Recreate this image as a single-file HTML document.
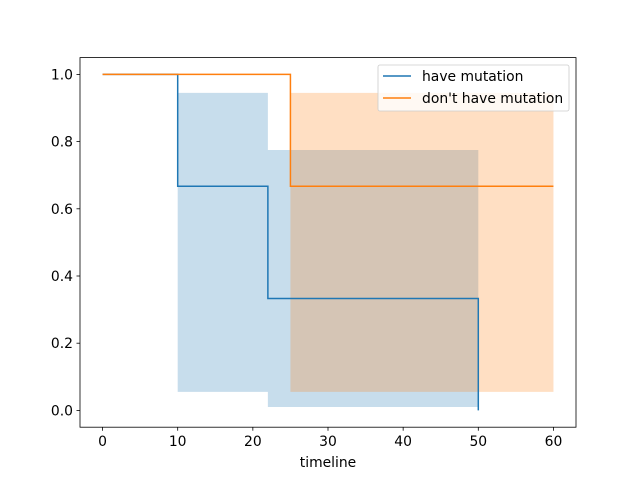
<!DOCTYPE html>
<html><head><meta charset="utf-8"><style>body{margin:0;background:#fff}svg{display:block;font-family:"DejaVu Sans","Liberation Sans",sans-serif}</style></head>
<body>
<svg id="chart" width="640" height="480">
<rect width="640" height="480" fill="#fff"/>
<g id="ci"></g><g id="lines"></g><g id="axes"></g>
</svg>
<script>
const blueT=[0,10,22,50];
const blueS=[1,0.667,0.333,0];
const blueLo=[1,0.055,0.01,0.01];
const blueHi=[1,0.945,0.775,0.775];
const blueEnd=50;
const orangeT=[0,25];
const orangeS=[1,0.667];
const orangeLo=[1,0.055];
const orangeHi=[1,0.945];
const orangeEnd=60;
const xTicks=[0,10,20,30,40,50,60];
const yTicks=[0,0.2,0.4,0.6,0.8,1.0];
const L=80,R=576,T=57.6,B=427.2,x0=-3,x1=63,y0=-0.05,y1=1.05;
const FS=13.9;
const X=v=>L+(v-x0)/(x1-x0)*(R-L);
const Y=v=>B-(v-y0)/(y1-y0)*(B-T);
const NS='http://www.w3.org/2000/svg';
function mk(p,tag,a){const e=document.createElementNS(NS,tag);for(const k in a)e.setAttribute(k,a[k]);p.appendChild(e);return e;}
function stepPath(t,s,end){let d=`M${X(t[0])},${Y(s[0])}`;for(let i=1;i<t.length;i++){d+=`H${X(t[i])}V${Y(s[i])}`;}d+=`H${X(end)}`;return d;}
function ciPath(t,lo,hi,end){let pts=[];for(let i=0;i<t.length;i++){const e=i+1<t.length?t[i+1]:end;pts.push([X(t[i]),Y(hi[i])],[X(e),Y(hi[i])]);}
let low=[];for(let i=0;i<t.length;i++){const e=i+1<t.length?t[i+1]:end;low.push([X(t[i]),Y(lo[i])],[X(e),Y(lo[i])]);}
return 'M'+pts.concat(low.reverse()).map(p=>p.join(',')).join('L')+'Z';}
const ci=document.getElementById('ci'),ln=document.getElementById('lines'),ax=document.getElementById('axes');
let e=mk(ci,'path',{d:ciPath(blueT,blueLo,blueHi,blueEnd),fill:'#1f77b4','fill-opacity':0.25,stroke:'none'});

e=mk(ci,'path',{d:ciPath(orangeT,orangeLo,orangeHi,orangeEnd),fill:'#ff7f0e','fill-opacity':0.25,stroke:'none'});

e=mk(ln,'path',{d:stepPath(blueT,blueS,blueEnd),fill:'none',stroke:'#1f77b4','stroke-width':1.5});

e=mk(ln,'path',{d:stepPath(orangeT,orangeS,orangeEnd),fill:'none',stroke:'#ff7f0e','stroke-width':1.5});

e=mk(ax,'rect',{x:L,y:T,width:R-L,height:B-T,fill:'none',stroke:'#000','stroke-width':0.8});

xTicks.forEach(v=>{mk(ax,'line',{x1:X(v),x2:X(v),y1:B,y2:B+3.5,stroke:'#000','stroke-width':0.8});
const t=mk(ax,'text',{x:X(v),y:B+19,'text-anchor':'middle','font-size':FS});t.textContent=v;
});
yTicks.forEach(v=>{mk(ax,'line',{x1:L-3.5,x2:L,y1:Y(v),y2:Y(v),stroke:'#000','stroke-width':0.8});
const t=mk(ax,'text',{x:L-7,y:Y(v)+5,'text-anchor':'end','font-size':FS});t.textContent=v.toFixed(1);
});
e=mk(ax,'text',{x:(L+R)/2,y:467,'text-anchor':'middle','font-size':FS});e.textContent='timeline';

const lg=mk(ax,'g',{});

mk(lg,'rect',{x:378,y:65,width:191,height:46,rx:2,fill:'#fff','fill-opacity':0.8,stroke:'#ccc','stroke-width':0.8});
[['have mutation','#1f77b4',76],["don't have mutation",'#ff7f0e',98]].forEach(([n,c,y])=>{
const g=mk(lg,'g',{});

mk(g,'line',{x1:383,x2:411,y1:y,y2:y,stroke:c,'stroke-width':1.5});
const t=mk(g,'text',{x:422,y:y+5,'font-size':FS});t.textContent=n;});
</script>
</body></html>
